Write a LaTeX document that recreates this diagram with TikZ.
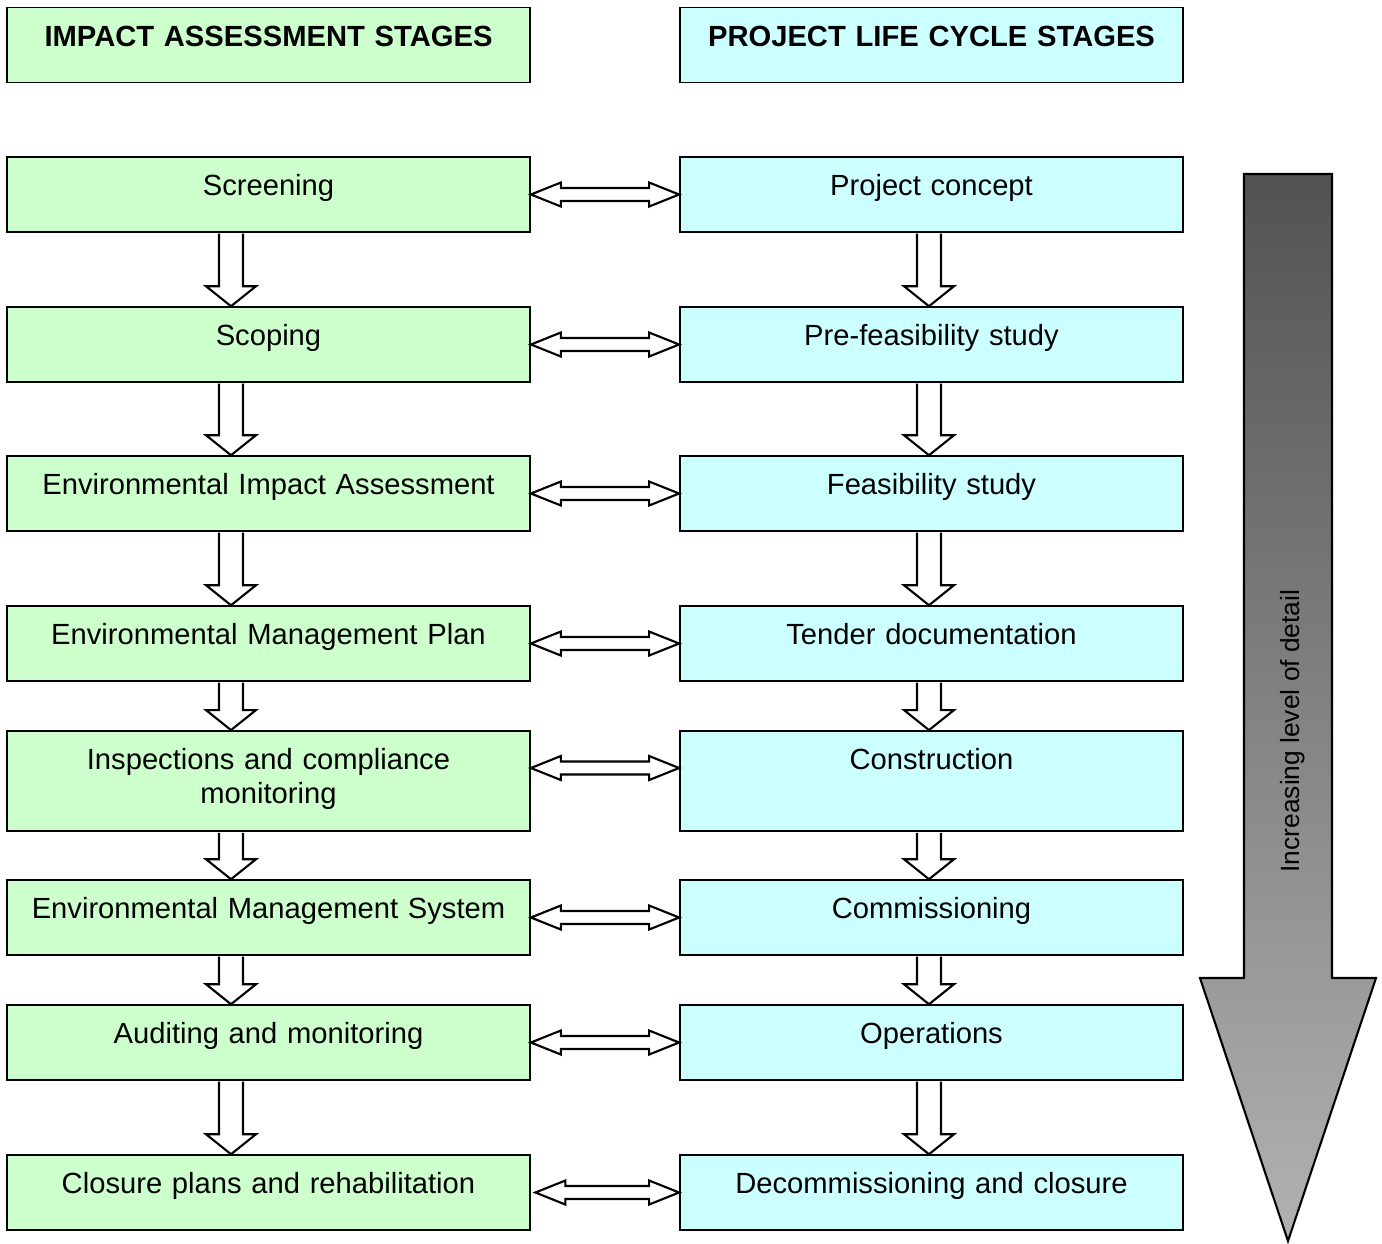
\documentclass[tikz,border=0pt]{standalone}
\usepackage{fontspec}
\setmainfont{Liberation Sans}
\usetikzlibrary{calc}
\definecolor{impactgreen}{HTML}{CCFFCC}
\definecolor{cyclecyan}{HTML}{CCFFFF}
\definecolor{darkshade}{HTML}{525252}
\definecolor{lightshade}{HTML}{B2B2B2}
\begin{document}
\begin{tikzpicture}[line join=miter,
	font=\fontsize{8.3}{9.7}\selectfont,
	stage/.style={draw, line width=0.5pt, align=center, inner xsep=0pt, inner ysep=0pt, text height=11pt, text depth=10.3pt},
	impact/.style={stage, fill=impactgreen, minimum width=5.23cm, text width=5.1cm},
	cycle/.style={stage, fill=cyclecyan, minimum width=5.03cm, text width=4.9cm},
	blockarrow/.style={draw, fill=white, line width=0.6pt}]
	\def\xl{2.685} % left column
	\def\xr{9.315} % right column
	\def\downblk#1#2#3{\draw[blockarrow] ($(#1.south)+(#3-0.12,-0.009)$) -- ($(#2.north)+(#3-0.12,0.2)$) -- ($(#2.north)+(#3-0.25,0.2)$) -- ($(#2.north)+(#3,0)$) -- ($(#2.north)+(#3+0.25,0.2)$) -- ($(#2.north)+(#3+0.12,0.2)$) -- ($(#1.south)+(#3+0.12,-0.009)$);}
	\def\sideblk#1#2#3#4{\draw[blockarrow] ($(#1.east)+(#4,#3)$) -- ($(#1.east)+(#4+0.3,#3+0.12)$) -- ($(#1.east)+(#4+0.3,#3+0.065)$) -- ($(#2.west)+(-0.3,#3+0.065)$) -- ($(#2.west)+(-0.3,#3+0.12)$) -- ($(#2.west)+(0,#3)$) -- ($(#2.west)+(-0.3,#3-0.12)$) -- ($(#2.west)+(-0.3,#3-0.065)$) -- ($(#1.east)+(#4+0.3,#3-0.065)$) -- ($(#1.east)+(#4+0.3,#3-0.12)$) -- cycle;}
	\useasboundingbox (0,0) rectangle (13.82,-12.43);
	% headings
	\node[impact, font=\fontsize{8.3}{9.7}\selectfont\bfseries] (hdimpact) at (\xl,-0.45) {IMPACT ASSESSMENT STAGES};
	\node[cycle, font=\fontsize{8.3}{9.7}\selectfont\bfseries] (hdcycle) at (\xr,-0.45) {PROJECT LIFE CYCLE STAGES};
	% impact assessment stages
	\node[impact] (screen) at (\xl,-1.945) {Screening};
	\node[impact] (scope) at (\xl,-3.445) {Scoping};
	\node[impact] (eia) at (\xl,-4.935) {Environmental Impact Assessment};
	\node[impact] (emp) at (\xl,-6.435) {Environmental Management Plan};
	\node[impact, text depth=17.5pt] (inspect) at (\xl,-7.81) {Inspections and compliance\\monitoring};
	\node[impact] (ems) at (\xl,-9.175) {Environmental Management System};
	\node[impact] (audit) at (\xl,-10.425) {Auditing and monitoring};
	\node[impact] (closure) at (\xl,-11.925) {Closure plans and rehabilitation};
	% project life cycle stages
	\node[cycle] (concept) at (\xr,-1.945) {Project concept};
	\node[cycle] (prefeas) at (\xr,-3.445) {Pre-feasibility study};
	\node[cycle] (feas) at (\xr,-4.935) {Feasibility study};
	\node[cycle] (tender) at (\xr,-6.435) {Tender documentation};
	\node[cycle, text depth=17.5pt] (constr) at (\xr,-7.81) {Construction};
	\node[cycle] (commis) at (\xr,-9.175) {Commissioning};
	\node[cycle] (oper) at (\xr,-10.425) {Operations};
	\node[cycle] (decom) at (\xr,-11.925) {Decommissioning and closure};
	% downward arrows
	\downblk{screen}{scope}{-0.375}
	\downblk{scope}{eia}{-0.375}
	\downblk{eia}{emp}{-0.375}
	\downblk{emp}{inspect}{-0.375}
	\downblk{inspect}{ems}{-0.375}
	\downblk{ems}{audit}{-0.375}
	\downblk{audit}{closure}{-0.375}
	\downblk{concept}{prefeas}{-0.025}
	\downblk{prefeas}{feas}{-0.025}
	\downblk{feas}{tender}{-0.025}
	\downblk{tender}{constr}{-0.025}
	\downblk{constr}{commis}{-0.025}
	\downblk{commis}{oper}{-0.025}
	\downblk{oper}{decom}{-0.025}
	% links between the columns
	\sideblk{screen}{concept}{0}{0}
	\sideblk{scope}{prefeas}{0}{0}
	\sideblk{eia}{feas}{0}{0}
	\sideblk{emp}{tender}{0}{0}
	\sideblk{inspect}{constr}{0.13}{0}
	\sideblk{ems}{commis}{0}{0}
	\sideblk{audit}{oper}{0}{0}
	\sideblk{closure}{decom}{0}{0.045}
	% detail arrow
	\shadedraw[top color=darkshade, bottom color=lightshade, line width=0.6pt] (12.44,-1.74) -- (13.32,-1.74) -- (13.32,-9.78) -- (13.76,-9.78) -- (12.88,-12.41) -- (12.00,-9.78) -- (12.44,-9.78) -- cycle;
	\node[rotate=90, font=\fontsize{7.5}{9}\selectfont] (detail) at (12.93,-7.31) {Increasing level of detail};
\end{tikzpicture}
\end{document}
